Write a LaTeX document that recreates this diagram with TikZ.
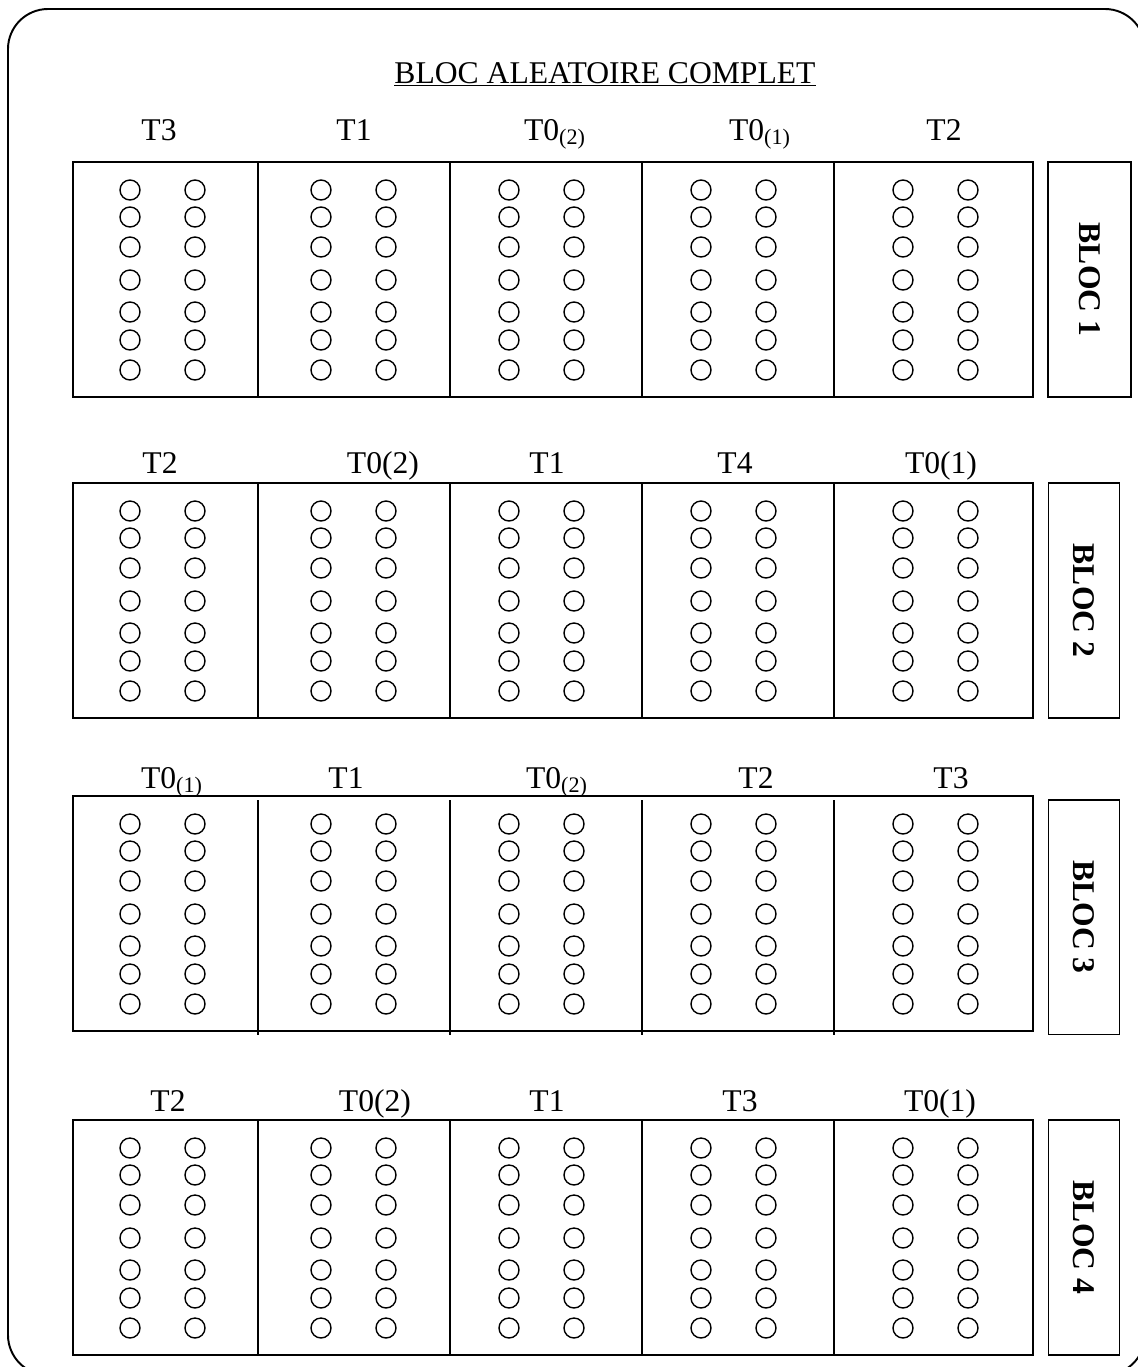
\documentclass[tikz,border=0pt]{standalone}
\usepackage{fontspec}
\setmainfont{Liberation Serif}
\usepackage{tikz}

\begin{document}
\begin{tikzpicture}[x=0.02cm,y=-0.02cm,
    frame/.style={draw=black,line width=1.1pt,rounded corners=0.8cm},
    plot/.style={draw=black,line width=1.1pt},
    plant/.style={draw=black,line width=0.8pt},
    trt/.style={anchor=base,inner sep=0pt,font=\fontsize{18}{21}\selectfont},
    bloclabel/.style={draw=black,line width=1.1pt,rotate=-90,inner sep=0pt,
      minimum width=4.7cm,minimum height=1.42cm,
      font=\fontsize{18}{21}\selectfont\bfseries}
  ]
    \useasboundingbox (0,0) rectangle (1138,1367);
    \draw[frame] (8,9) rectangle (1145,1375);

    \node[trt] (titre) at (605,83) {\underline{BLOC ALEATOIRE COMPLET}};

    % Parcelles et plants des quatre blocs.
    \foreach \top/\gap in {162/0,483/0,796/4,1120/0} {
      \draw[plot] (73,\top) rectangle (1033,\top+235);
      \foreach \x in {258,450,642,834}
        \draw[plot] (\x,\top+\gap) -- (\x,\top+235+\gap);
      \foreach \cx in {130,321,509,701,903}
        \foreach \dx in {0,65}
          \foreach \dy in {28,55,85,118,150,178,208}
            \draw[plant] (\cx+\dx,\top+\dy) circle[radius=0.2cm];
    }

    % Bloc 1.
    \node[trt] (b1t3) at (159,140) {T3};
    \node[trt] (b1t1) at (354,140) {T1};
    \node[trt] (b1t02) at (555,140) {T0\textsubscript{(2)}};
    \node[trt] (b1t01) at (760,140) {T0\textsubscript{(1)}};
    \node[trt] (b1t2) at (944,140) {T2};
    \node[bloclabel,minimum height=1.66cm] (bloc1) at (1089.5,279.5) {BLOC 1};

    % Bloc 2.
    \node[trt] (b2t2) at (160,473) {T2};
    \node[trt] (b2t02) at (383,473) {T0(2)};
    \node[trt] (b2t1) at (547,473) {T1};
    \node[trt] (b2t4) at (735,473) {T4};
    \node[trt] (b2t01) at (941,473) {T0(1)};
    \node[bloclabel] (bloc2) at (1084,600.5) {BLOC 2};

    % Bloc 3.
    \node[trt] (b3t01) at (172,788) {T0\textsubscript{(1)}};
    \node[trt] (b3t1) at (346,788) {T1};
    \node[trt] (b3t02) at (557,788) {T0\textsubscript{(2)}};
    \node[trt] (b3t2) at (756,788) {T2};
    \node[trt] (b3t3) at (951,788) {T3};
    \node[bloclabel] (bloc3) at (1084,917) {BLOC 3};

    % Bloc 4.
    \node[trt] (b4t2) at (168,1111) {T2};
    \node[trt] (b4t02) at (375,1111) {T0(2)};
    \node[trt] (b4t1) at (547,1111) {T1};
    \node[trt] (b4t3) at (740,1111) {T3};
    \node[trt] (b4t01) at (940,1111) {T0(1)};
    \node[bloclabel] (bloc4) at (1084,1237.5) {BLOC 4};
  \end{tikzpicture}
\end{document}
